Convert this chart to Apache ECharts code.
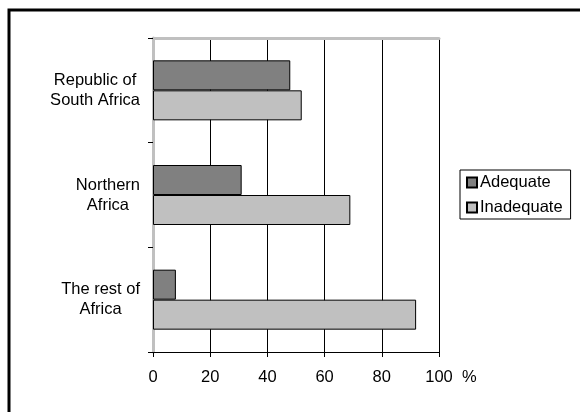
<!DOCTYPE html>
<html>
<head>
<meta charset="utf-8">
<script src="https://cdn.jsdelivr.net/npm/echarts@6/dist/echarts.min.js"></script>
<style>
html,body{margin:0;padding:0;background:#fff;overflow:hidden;}
#chart{width:580px;height:412px;}
</style>
</head>
<body>
<div id="chart"></div>
<script>
var categories = ['Republic of\nSouth Africa', 'Northern\nAfrica', 'The rest of\nAfrica'];
var adequate = [48, 31, 8];
var inadequate = [52, 69, 92];
var xTicks = [0, 20, 40, 60, 80, 100];
var seriesNames = ['Adequate', 'Inadequate'];

var FONT = '"Liberation Sans", Arial, sans-serif';
var FS = 16.5;
var chart = echarts.init(document.getElementById('chart'), null, {renderer: 'canvas'});
chart.setOption({
  animation: false,
  backgroundColor: '#fff',
  textStyle: {fontFamily: FONT, color: '#000'},
  graphic: [{
    type: 'rect', z: 100, silent: true,
    shape: {x: 9, y: 10, width: 700, height: 600},
    style: {fill: 'none', stroke: '#000', lineWidth: 3}
  }],
  grid: {left: 153, right: 141, top: 38, bottom: 60, containLabel: false},
  legend: {
    orient: 'vertical',
    left: 460, top: 170,
    data: seriesNames,
    borderColor: '#000', borderWidth: 1,
    padding: [4, 8, 3, 6],
    itemWidth: 10, itemHeight: 10, itemGap: 8,
    icon: 'rect',
    textStyle: {fontFamily: FONT, fontSize: FS, color: '#000', padding: [0, 0, 0, -2]}
  },
  xAxis: [{
    type: 'value', min: xTicks[0], max: xTicks[xTicks.length - 1], interval: 20,
    position: 'bottom',
    name: '%', nameLocation: 'end', nameGap: 23,
    nameTextStyle: {fontFamily: FONT, fontSize: FS, color: '#000', verticalAlign: 'top', padding: [17, 0, 0, 0]},
    axisLine: {show: true, lineStyle: {color: '#000', width: 1}},
    axisTick: {show: true, length: 5, lineStyle: {color: '#000'}},
    axisLabel: {fontFamily: FONT, fontSize: FS, color: '#000', margin: 17},
    splitLine: {show: true, lineStyle: {color: '#000', width: 1}}
  }, {
    type: 'value', min: 0, max: 100, interval: 20, position: 'top',
    axisLine: {show: true, lineStyle: {color: '#c0c0c0', width: 3}},
    axisTick: {show: false}, axisLabel: {show: false}, splitLine: {show: false}
  }],
  yAxis: [{
    type: 'category', data: categories, inverse: true,
    axisLine: {show: true, lineStyle: {color: '#000', width: 1}},
    axisTick: {show: true, length: 5, lineStyle: {color: '#000'}},
    axisLabel: {
      margin: 13, align: 'right',
      formatter: function (v) {
        return v.split('\n').map(function (s) { return '{c|' + s + '}'; }).join('\n');
      },
      rich: {c: {align: 'center', fontFamily: FONT, fontSize: FS, color: '#000', lineHeight: 20}}
    },
    splitLine: {show: false}
  }, {
    type: 'category', data: categories, inverse: true, position: 'right',
    axisLine: {show: true, lineStyle: {color: '#c0c0c0', width: 3}},
    axisTick: {show: false}, axisLabel: {show: false}, splitLine: {show: false}
  }],
  series: [{
    name: seriesNames[0], type: 'bar', data: adequate,
    barWidth: 30, barGap: '0%',
    itemStyle: {color: '#808080', borderColor: '#000', borderWidth: 1}
  }, {
    name: seriesNames[1], type: 'bar', data: inadequate,
    barWidth: 30, barGap: '0%',
    itemStyle: {color: '#c0c0c0', borderColor: '#000', borderWidth: 1}
  }]
});
</script>
</body>
</html>
